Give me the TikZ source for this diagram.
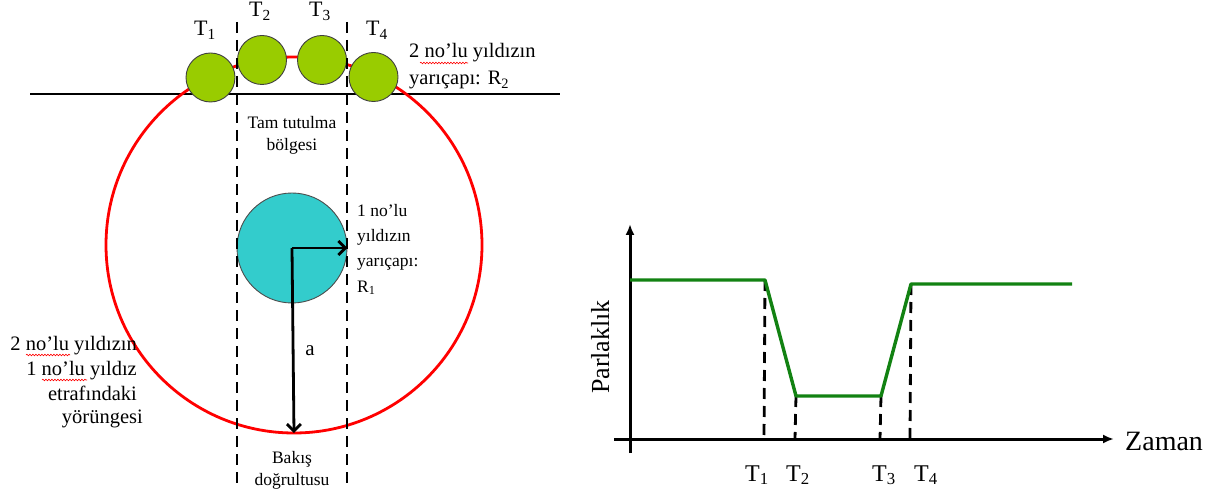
\documentclass[tikz,border=0pt]{standalone}
\usepackage{fontspec}
\setmainfont{Liberation Serif}
\usetikzlibrary{arrows.meta,decorations.pathmorphing}
\definecolor{orbitred}{RGB}{255,0,0}
\definecolor{stargreen}{RGB}{153,204,0}
\definecolor{starcyan}{RGB}{51,204,204}
\definecolor{curvegreen}{RGB}{18,130,18}
\newcommand{\myfs}[1]{\fontsize{#1}{#1}\selectfont}
\begin{document}
\begin{tikzpicture}[x=1pt,y=-1pt,
  smallstar/.style={circle, draw=black!75, line width=0.9pt, fill=stargreen, minimum size=49pt, inner sep=0pt},
  bigstar/.style={circle, draw=black!70, line width=0.9pt, fill=starcyan, minimum size=110pt, inner sep=0pt},
  orbitstyle/.style={circle, draw=orbitred, line width=2.8pt, minimum size=376pt, inner sep=0pt, outer sep=0pt},
  sightline/.style={black, line width=2.8pt, dash pattern=on 11pt off 7pt},
  radarrow/.style={black, line width=2.8pt, -{Straight Barb[length=7pt,width=14pt,line width=2.8pt]}},
  axisline/.style={black, line width=3pt, -{Latex[length=11pt,width=9pt]}},
  curve/.style={curvegreen, line width=3.4pt, line join=round},
  squig/.style={orbitred, line width=0.6pt, decorate, decoration={snake, amplitude=0.8pt, segment length=3pt}},
  ttop/.style={inner sep=0pt, anchor=base, font=\myfs{22}},
  bigtxt/.style={inner sep=0pt, font=\myfs{20.5}},
  midtxt/.style={inner sep=0pt, font=\myfs{17.5}},
  gtxt/.style={inner sep=0pt, anchor=base, font=\myfs{24}}]
\useasboundingbox (0,0) rectangle (1215,494);

% ---------- left diagram ----------
\coordinate (hl) at (30,94);
\coordinate (hr) at (560,94);
\draw[black, line width=1.1pt] (hl) -- (hr);

\node[orbitstyle] (orbit) at (294,245) {};

\node[smallstar] (s1) at (210.5,77.5) {};
\node[smallstar] (s2) at (262,60) {};
\node[smallstar] (s3) at (322,60) {};
\node[smallstar] (s4) at (373.5,77) {};

\node[bigstar] (star1) at (292,248) {};

\coordinate (d1top) at (237,22);
\coordinate (d1bot) at (237,484);
\coordinate (d2top) at (347,22);
\coordinate (d2bot) at (347,484);
\draw[sightline] (d1top) -- (d1bot);
\draw[sightline] (d2top) -- (d2bot);

\draw[radarrow] (star1.center) -- (star1.east);
\draw[radarrow] (star1.center) -- (orbit.south);

\node[ttop] (lt1) at (205,36) {T\textsubscript{1}};
\node[ttop] (lt2) at (260,17) {T\textsubscript{2}};
\node[ttop] (lt3) at (320,17) {T\textsubscript{3}};
\node[ttop] (lt4) at (377,36) {T\textsubscript{4}};

\node[bigtxt, anchor=base west] (r2a) at (409,58) {2 no’lu yıldızın};
\node[bigtxt, anchor=base west] (r2b) at (409,85) {yarıçapı: R\textsubscript{2}};

\node[midtxt, anchor=base] (tt1) at (292,129) {Tam tutulma};
\node[midtxt, anchor=base] (tt2) at (292,151) {bölgesi};

\node[inner sep=0pt, anchor=base west, font=\myfs{17.5}] (r1a) at (357,217) {1 no’lu};
\node[inner sep=0pt, anchor=base west, font=\myfs{17.5}] (r1b) at (357,242) {yıldızın};
\node[inner sep=0pt, anchor=base west, font=\myfs{17.5}] (r1c) at (357,267) {yarıçapı:};
\node[inner sep=0pt, anchor=base west, font=\myfs{17.5}] (r1d) at (357,292) {R\textsubscript{1}};

\node[inner sep=0pt, anchor=base, font=\myfs{21}] (alab) at (310,355) {a};

\node[bigtxt, anchor=base east] (o1) at (137,350) {2 no’lu yıldızın};
\node[bigtxt, anchor=base east] (o2) at (137,375) {1 no’lu yıldız};
\node[bigtxt, anchor=base east] (o3) at (137,400) {etrafındaki};
\node[bigtxt, anchor=base east] (o4) at (143,423) {yörüngesi};

\node[midtxt, anchor=base] (b1) at (292,463) {Bakış};
\node[midtxt, anchor=base] (b2) at (292,485) {doğrultusu};

\coordinate (q1a) at (420,63); \coordinate (q1b) at (468,63);
\coordinate (q2a) at (26,355); \coordinate (q2b) at (70,355);
\coordinate (q3a) at (42,380); \coordinate (q3b) at (87,380);
\draw[squig] (q1a) -- (q1b);
\draw[squig] (q2a) -- (q2b);
\draw[squig] (q3a) -- (q3b);

% ---------- light curve ----------
\coordinate (yb) at (630,453);
\coordinate (yt) at (630,224);
\coordinate (xl) at (614,439);
\coordinate (xr) at (1114,439);
\draw[axisline] (yb) -- (yt);
\draw[axisline] (xl) -- (xr);

\coordinate (p0) at (630,280);
\coordinate (p1) at (765,280);
\coordinate (p2) at (796,396);
\coordinate (p3) at (881,396);
\coordinate (p4) at (911,284);
\coordinate (p5) at (1072,284);

\coordinate (f1) at (764,439);
\coordinate (f2) at (795,439);
\coordinate (f3) at (880,439);
\coordinate (f4) at (910,439);
\draw[sightline] (p1) -- (f1);
\draw[sightline] (p2) -- (f2);
\draw[sightline] (p3) -- (f3);
\draw[sightline] (p4) -- (f4);

\draw[curve] (p0) -- (p1) -- (p2) -- (p3) -- (p4) -- (p5);

\node[gtxt] (g1) at (757,481) {T\textsubscript{1}};
\node[gtxt] (g2) at (798,481) {T\textsubscript{2}};
\node[gtxt] (g3) at (884,481) {T\textsubscript{3}};
\node[gtxt] (g4) at (926,481) {T\textsubscript{4}};

\node[inner sep=0pt, anchor=base west, font=\myfs{28}] (zaman) at (1125,450) {Zaman};
\node[inner sep=0pt, anchor=base, rotate=90, font=\myfs{26}] (parl) at (609,347) {Parlaklık};
\end{tikzpicture}
\end{document}
